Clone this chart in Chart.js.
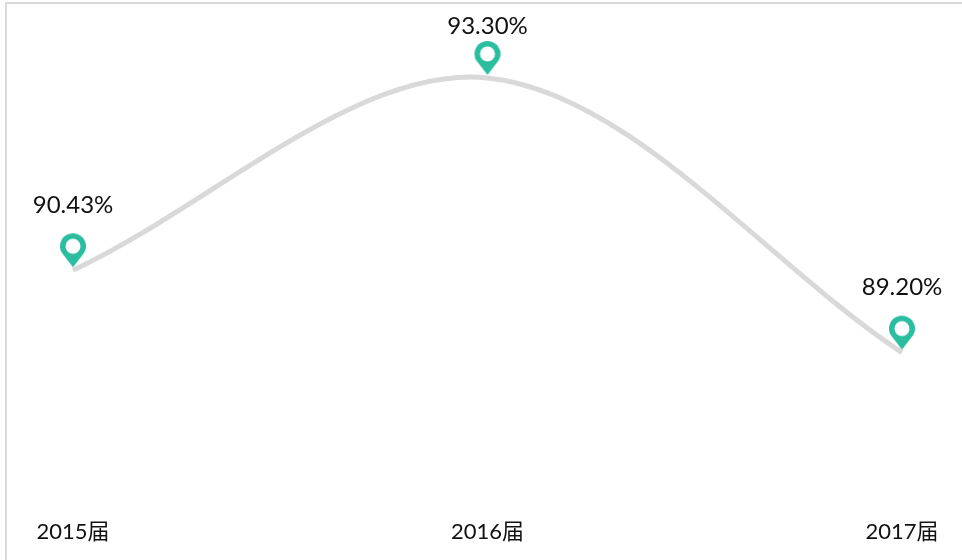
<!DOCTYPE html>
<html>
<head>
<meta charset="utf-8">
<style>
  html, body { margin: 0; padding: 0; background: #fff; overflow: hidden; }
</style>
<script src="https://cdn.jsdelivr.net/npm/chart.js@4/dist/chart.umd.min.js"></script>
</head>
<body>
<canvas id="chart" width="962" height="560"></canvas>
<script>
var categories = ['2015届', '2016届', '2017届'];
var rates = [90.43, 93.30, 89.20];
var rateLabels = ['90.43%', '93.30%', '89.20%'];

var fontFamily = 'Lato, "Noto Sans CJK SC", sans-serif';

// pin sits in the top half so that its tip lands just above the data point
function makePin() {
  var c = document.createElement('canvas');
  c.width = 30;
  c.height = 78;
  var p = c.getContext('2d');
  p.fillStyle = '#2bbd9f';
  p.beginPath();
  p.arc(15, 15, 13, Math.PI * 0.83, Math.PI * 0.17);
  p.lineTo(15, 36);
  p.closePath();
  p.fill();
  p.fillStyle = '#fff';
  p.beginPath();
  p.arc(15, 15, 7.5, 0, Math.PI * 2);
  p.fill();
  return c;
}

// grey frame on the left and top
var framePlugin = {
  id: 'frame',
  beforeDraw: function(chart) {
    var ctx = chart.ctx;
    ctx.save();
    ctx.strokeStyle = '#d9d9d9';
    ctx.lineWidth = 2;
    ctx.beginPath();
    ctx.moveTo(6, 560);
    ctx.lineTo(6, 3);
    ctx.lineTo(962, 3);
    ctx.stroke();
    ctx.restore();
  }
};

var labelPlugin = {
  id: 'rateLabels',
  afterDatasetsDraw: function(chart) {
    var ctx = chart.ctx;
    var pts = chart.getDatasetMeta(0).data;
    ctx.save();
    ctx.font = '24px ' + fontFamily;
    ctx.fillStyle = '#111';
    ctx.textAlign = 'center';
    ctx.textBaseline = 'middle';
    for (var i = 0; i < pts.length; i++) {
      ctx.fillText(rateLabels[i], pts[i].x, Math.max(pts[i].y - 65, 26));
    }
    ctx.restore();
  }
};

new Chart(document.getElementById('chart'), {
  type: 'line',
  data: {
    labels: categories,
    datasets: [{
      data: rates,
      borderColor: '#d9d9d9',
      borderWidth: 5,
      tension: 0.33,
      clip: false,
      pointStyle: makePin(),
      pointRadius: 15,
      pointHoverRadius: 15
    }]
  },
  options: {
    responsive: false,
    animation: false,
    layout: { padding: { left: 73, right: 60, top: 31, bottom: 0 } },
    plugins: { legend: { display: false }, tooltip: { enabled: false } },
    scales: {
      x: {
        offset: false,
        grid: { display: false },
        border: { display: false },
        afterFit: function(s) { s.height = 60; },
        ticks: {
          color: '#111',
          padding: 11,
          maxRotation: 0,
          align: 'center',
          font: { family: fontFamily, size: 22 }
        }
      },
      y: { display: false, min: 87, max: 94 }
    }
  },
  plugins: [framePlugin, labelPlugin]
});
</script>
</body>
</html>
